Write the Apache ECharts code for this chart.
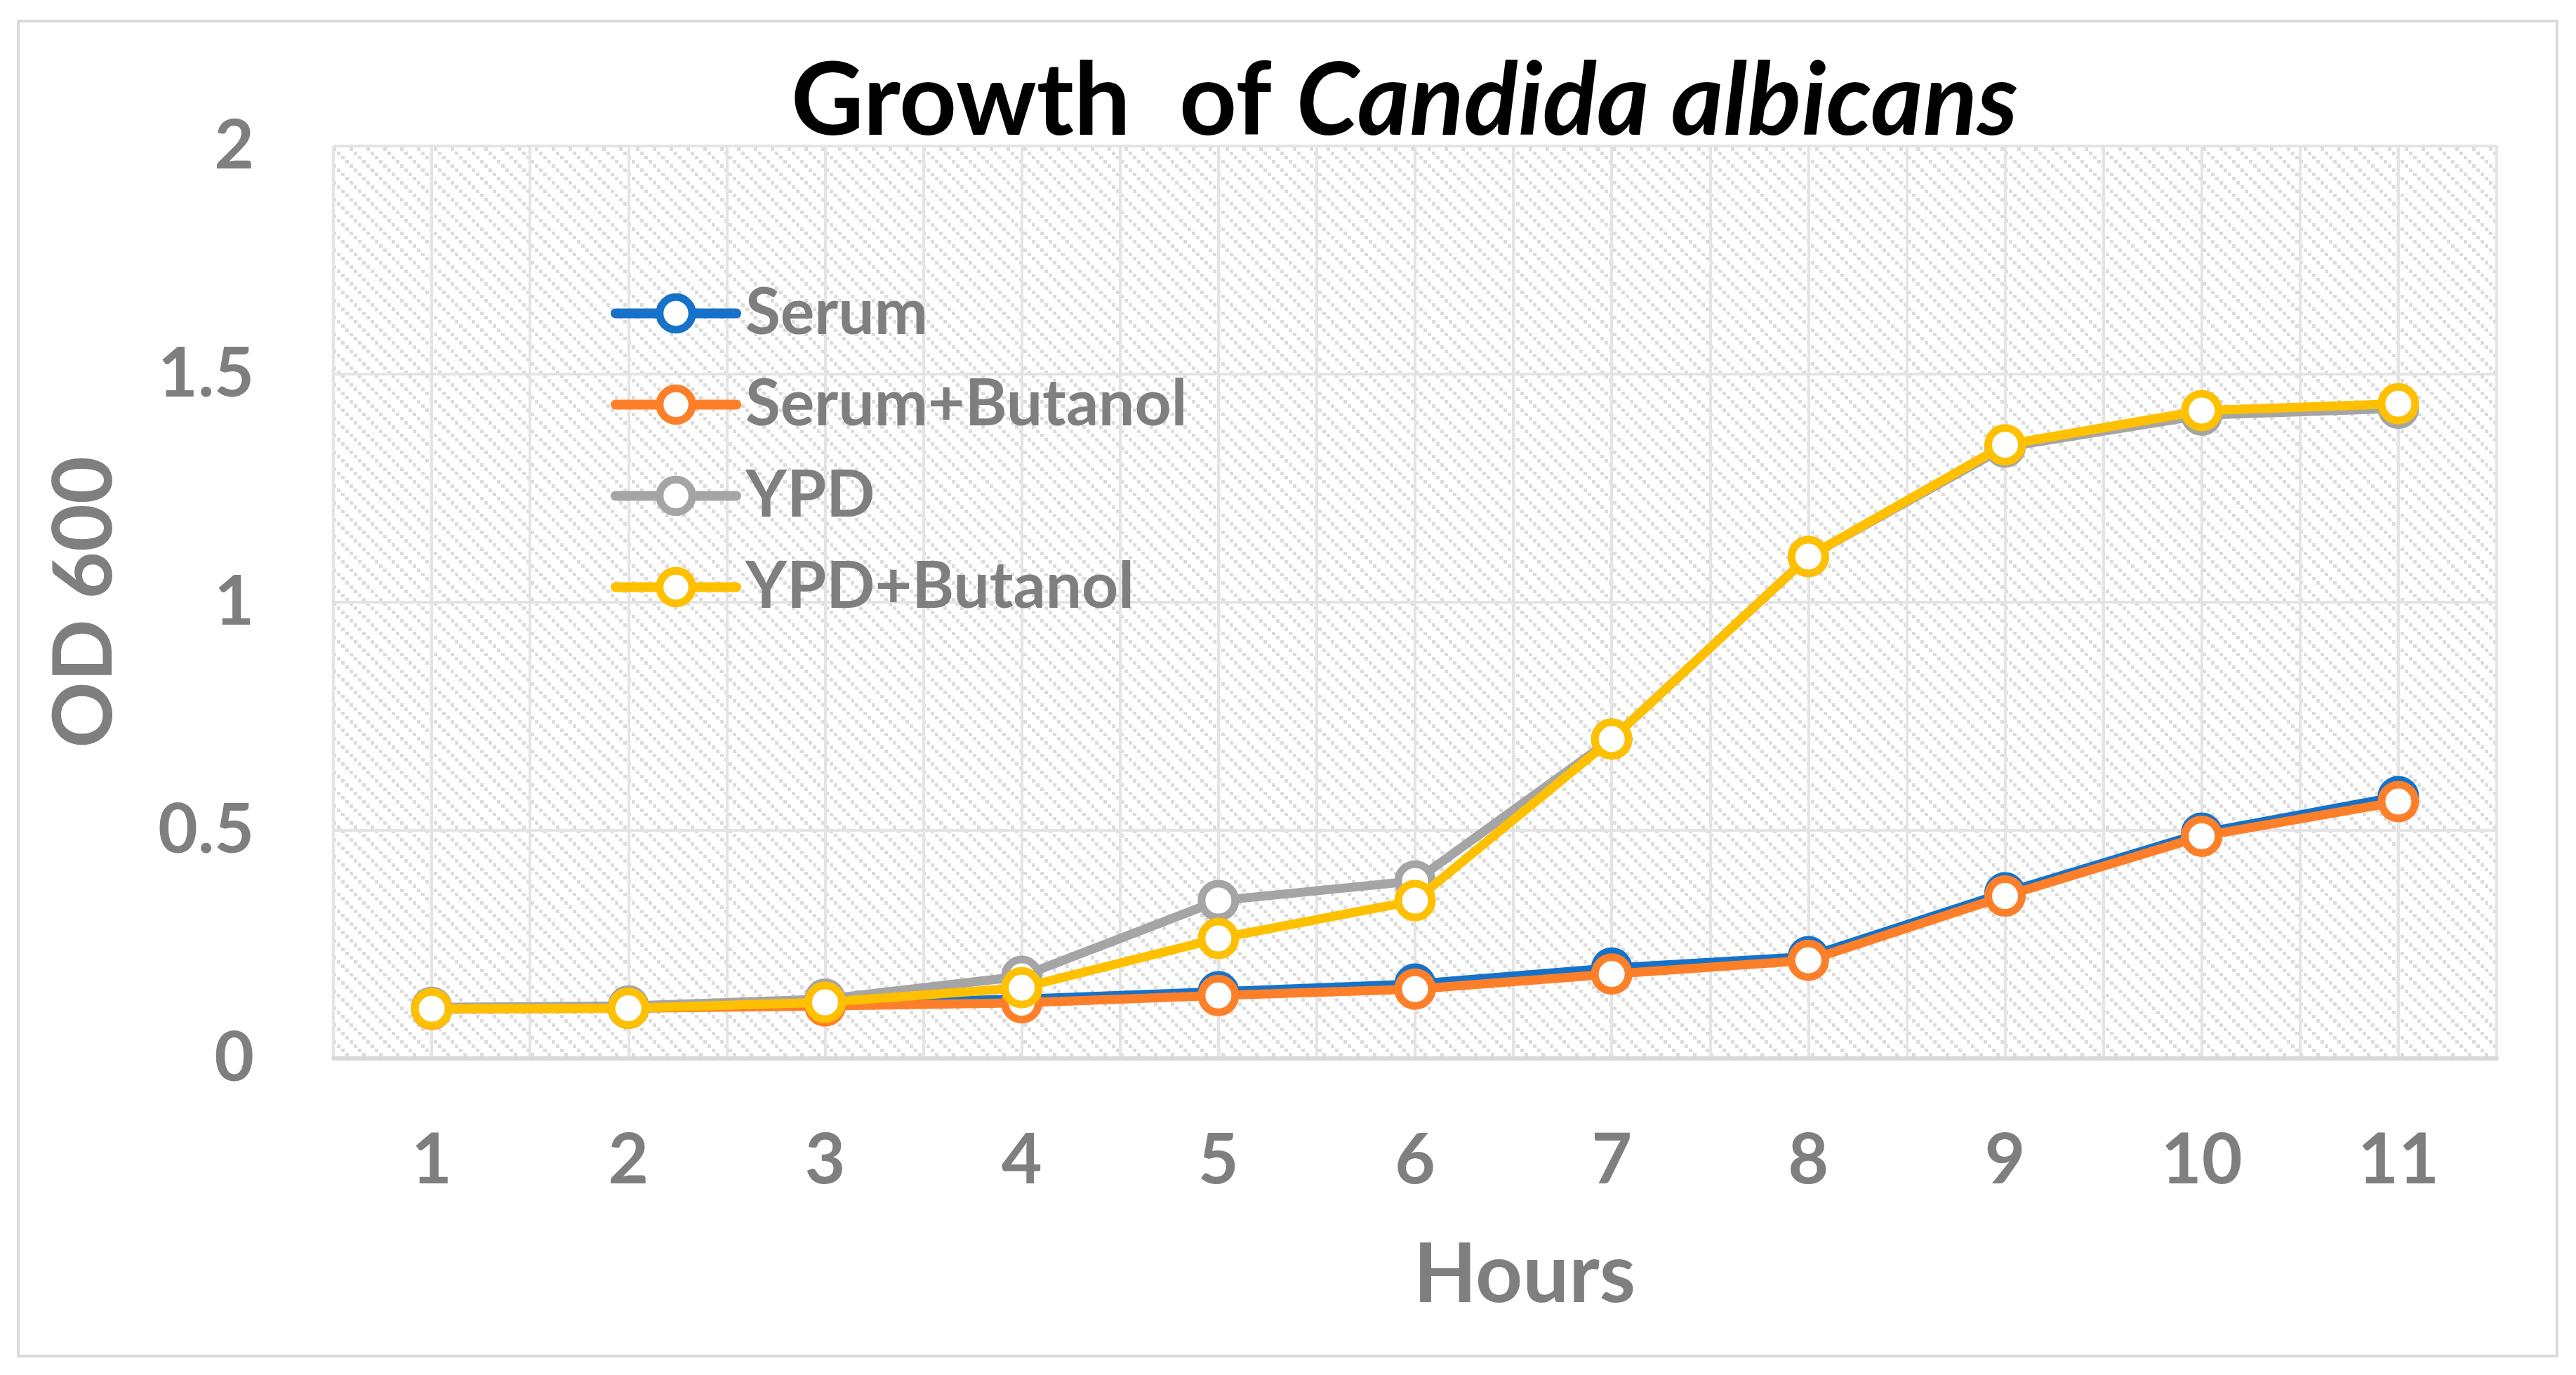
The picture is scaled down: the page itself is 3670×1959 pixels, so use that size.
<!DOCTYPE html>
<html>
<head>
<meta charset="utf-8">
<script src="https://cdn.jsdelivr.net/npm/echarts@6/dist/echarts.min.js"></script>
<style>html,body{margin:0;padding:0;background:#fff}#c{width:3670px;height:1959px}</style>
</head>
<body>
<div id="c"></div>
<script>
// ---- data ----
const hours = [1, 2, 3, 4, 5, 6, 7, 8, 9, 10, 11];
const seriesNames = ['Serum', 'Serum+Butanol', 'YPD', 'YPD+Butanol'];
const serum        = [0.110, 0.110, 0.120, 0.130, 0.146, 0.163, 0.198, 0.223, 0.363, 0.494, 0.574];
const serumButanol = [0.108, 0.110, 0.115, 0.122, 0.138, 0.152, 0.185, 0.215, 0.356, 0.487, 0.563];
const ypd          = [0.112, 0.115, 0.130, 0.180, 0.346, 0.389, 0.700, 1.100, 1.340, 1.410, 1.425];
const ypdButanol   = [0.109, 0.110, 0.123, 0.155, 0.263, 0.346, 0.700, 1.100, 1.345, 1.420, 1.435];
const yTicks = [0, 0.5, 1, 1.5, 2];

const colors = ['#1672C9', '#FE7F29', '#A5A5A5', '#FFC000'];
const values = [serum, serumButanol, ypd, ypdButanol];

// ---- hatch pattern ----
const tile = document.createElement('canvas');
tile.width = 24; tile.height = 24;
const tctx = tile.getContext('2d');
tctx.fillStyle = '#ffffff';
tctx.fillRect(0, 0, 24, 24);
tctx.fillStyle = '#dcdcdc';
for (let k = 0; k < 4; k++) tctx.fillRect(k * 6, k * 6, 5, 5);

const FONT = 'Lato';
const GRAY = '#7f7f7f';

const chart = echarts.init(document.getElementById('c'), null, {renderer: 'canvas'});

const series = seriesNames.map((name, i) => ({
  name: name,
  type: 'line',
  data: hours.map((h, j) => [h, values[i][j]]),
  symbol: 'circle',
  symbolSize: 48,
  showAllSymbol: true,
  lineStyle: {color: colors[i], width: 13},
  itemStyle: {color: '#ffffff', borderColor: colors[i], borderWidth: 11},
  emphasis: {disabled: true},
  z: 3 + i
}));

const legendData = seriesNames.map((name, i) => ({
  name: name,
  itemStyle: {color: '#ffffff', borderColor: colors[i], borderWidth: 11},
  lineStyle: {color: colors[i], width: 14, cap: 'round'}
}));

chart.setOption({
  animation: false,
  backgroundColor: '#ffffff',
  grid: {
    left: 475, right: 113, top: 208, bottom: 451,
    show: true,
    backgroundColor: {image: tile, repeat: 'repeat'},
    borderWidth: 0
  },
  legend: {
    orient: 'vertical',
    left: 865, top: 396,
    itemWidth: 172, itemHeight: 58, itemGap: 39,
    data: legendData,
    itemStyle: {borderWidth: 11},
    lineStyle: {width: 14},
    textStyle: {fontFamily: FONT, fontWeight: 'bold', fontSize: 91, lineHeight: 90, color: GRAY, padding: [0, 0, 0, 8]}
  },
  xAxis: {
    type: 'value',
    min: 0.5, max: 11.5, interval: 0.5,
    name: 'Hours',
    nameLocation: 'middle',
    nameGap: 251,
    nameTextStyle: {fontFamily: FONT, fontWeight: 'bold', fontSize: 117, lineHeight: 117, color: GRAY, padding: [0, 0, 0, 312]},
    axisLine: {show: true, onZero: false, lineStyle: {color: '#d9d9d9', width: 6}},
    axisTick: {show: false},
    axisLabel: {
      fontFamily: FONT, fontWeight: 'bold', fontSize: 100, color: GRAY, margin: 96,
      showMinLabel: true, showMaxLabel: true,
      formatter: v => (hours.indexOf(v) >= 0 ? String(v) : '')
    },
    splitLine: {show: true, lineStyle: {color: '#e4e4e4', width: 4}}
  },
  yAxis: {
    type: 'value',
    min: yTicks[0], max: yTicks[yTicks.length - 1], interval: 0.5,
    name: 'OD 600',
    nameLocation: 'middle',
    nameRotate: 90,
    nameGap: 295,
    nameTextStyle: {fontFamily: FONT, fontWeight: 'bold', fontSize: 117, lineHeight: 117, color: GRAY},
    axisLine: {show: false},
    axisTick: {show: false},
    axisLabel: {fontFamily: FONT, fontWeight: 'bold', fontSize: 98, color: GRAY, margin: 113},
    splitLine: {show: true, lineStyle: {color: '#e4e4e4', width: 4}}
  },
  graphic: [
    {
      type: 'rect', silent: true, z: -1,
      shape: {x: 26, y: 30, width: 3617, height: 1902},
      style: {fill: 'none', stroke: '#d9d9d9', lineWidth: 4}
    },
    {
      type: 'text', silent: true,
      x: 2001, y: 146,
      style: {
        text: '{n|Growth  of }{i|Candida albicans}',
        align: 'center', verticalAlign: 'middle',
        rich: {
          n: {fontFamily: FONT, fontWeight: 'bold', fontSize: 143, fill: '#000000'},
          i: {fontFamily: FONT, fontWeight: 'bold', fontStyle: 'italic', fontSize: 143, fill: '#000000'}
        }
      }
    }
  ],
  series: series
});
</script>
</body>
</html>
